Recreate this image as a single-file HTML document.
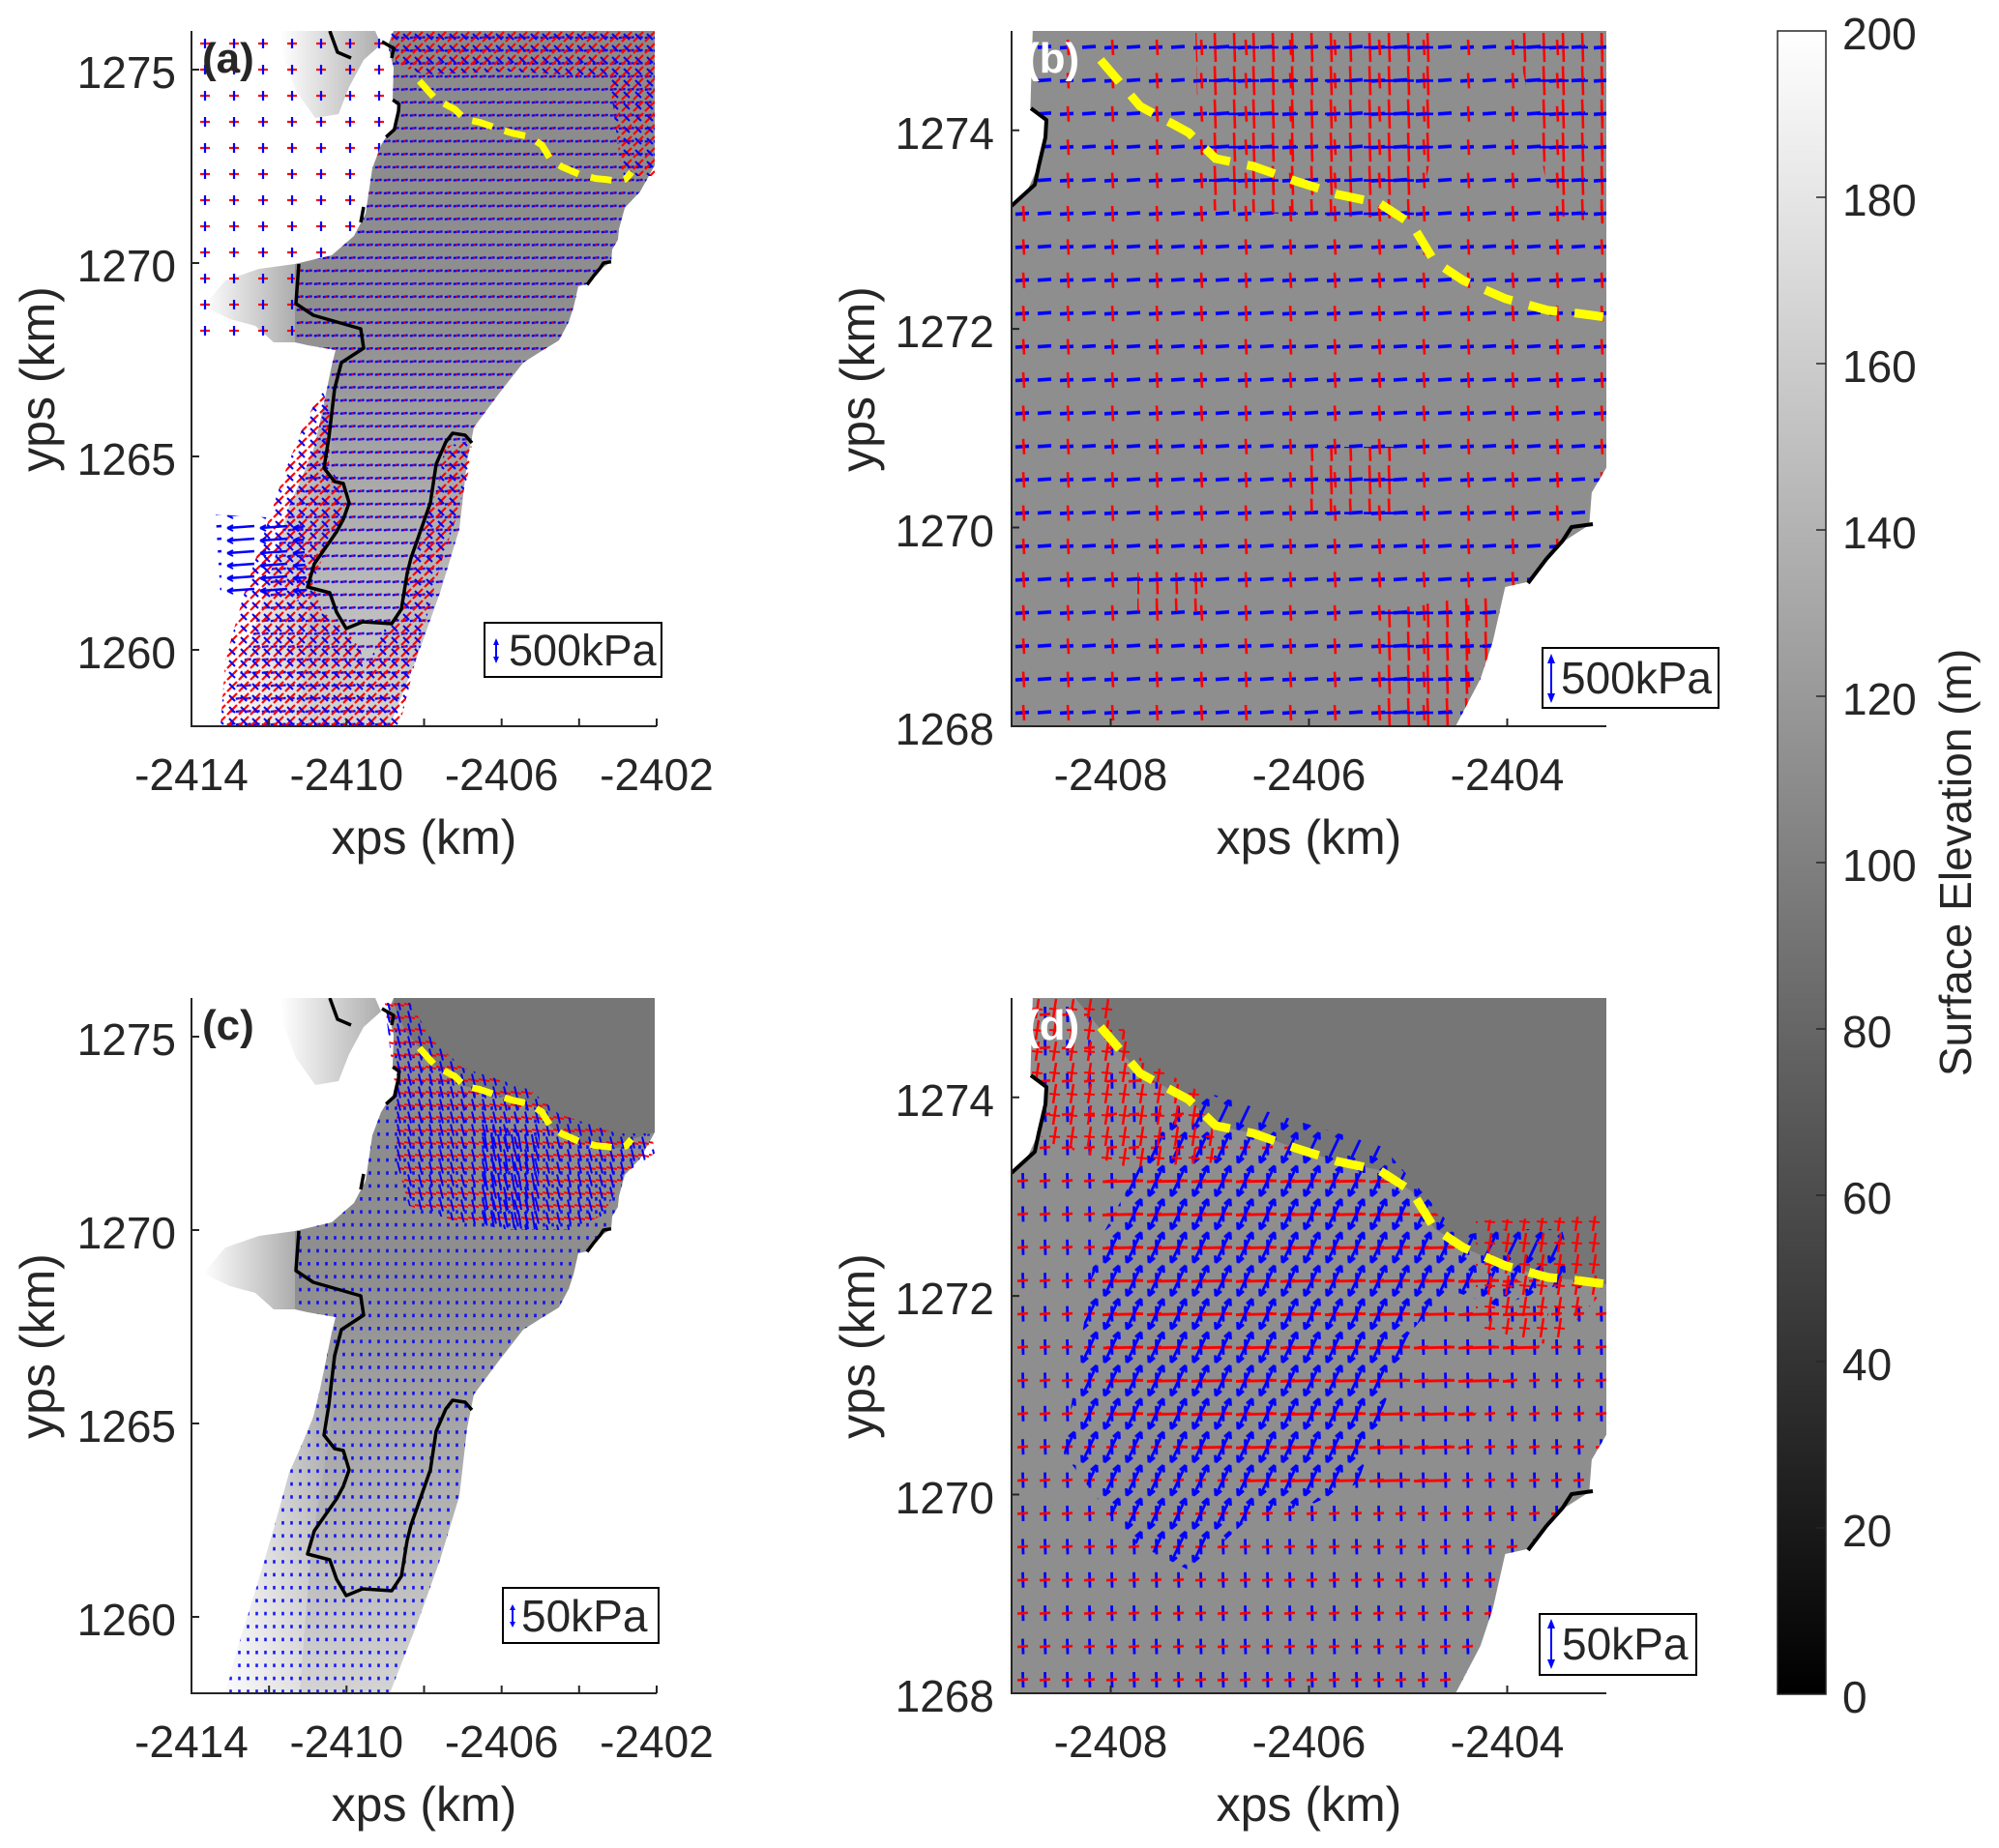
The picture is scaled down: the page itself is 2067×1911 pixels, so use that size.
<!DOCTYPE html>
<html><head><meta charset="utf-8">
<style>
html,body{margin:0;padding:0;background:#fff;width:2067px;height:1911px;overflow:hidden;}
svg{display:block;}
text{font-family:"Liberation Sans",Arial,sans-serif;fill:#262626;}
</style></head><body>
<svg xmlns="http://www.w3.org/2000/svg" width="2067" height="1911" viewBox="0 0 2067 1911">
<defs>
 <linearGradient id="gMain" gradientUnits="userSpaceOnUse" x1="0" y1="0" x2="0" y2="719">
  <stop offset="0" stop-color="#8a8a8a"/>
  <stop offset="0.42" stop-color="#8f8f8f"/>
  <stop offset="0.6" stop-color="#a4a4a4"/>
  <stop offset="0.8" stop-color="#b9b9b9"/>
  <stop offset="1" stop-color="#d4d4d4"/>
 </linearGradient>
 <linearGradient id="gBlob" x1="0" y1="0" x2="1" y2="0">
  <stop offset="0" stop-color="#ffffff"/>
  <stop offset="1" stop-color="#adadad"/>
 </linearGradient>
 <linearGradient id="gCbar" x1="0" y1="0" x2="0" y2="1">
  <stop offset="0" stop-color="#ffffff"/>
  <stop offset="1" stop-color="#000000"/>
 </linearGradient>
 <linearGradient id="gFringe" x1="0" y1="0" x2="1" y2="0">
  <stop offset="0" stop-color="#ffffff" stop-opacity="0.9"/>
  <stop offset="1" stop-color="#ffffff" stop-opacity="0"/>
 </linearGradient>

 <pattern id="pA_base" patternUnits="userSpaceOnUse" width="9" height="13.4">
  <line x1="0.8" y1="7.2" x2="7.6" y2="6.4" stroke="#0000ff" stroke-width="2.3"/>
  <rect x="3.6" y="5.8" width="1.8" height="1.8" fill="#ff0000"/>
 </pattern>
 <pattern id="pA_red" patternUnits="userSpaceOnUse" width="12" height="12">
  <line x1="1" y1="11" x2="11" y2="1" stroke="#ff0000" stroke-width="2.2"/>
  <line x1="3" y1="3" x2="9" y2="9" stroke="#0000ff" stroke-width="2"/>
 </pattern>
 <pattern id="pA_sparse" patternUnits="userSpaceOnUse" width="30" height="27">
  <line x1="9" y1="13" x2="19" y2="13" stroke="#ff0000" stroke-width="2.2"/>
  <line x1="14" y1="8" x2="14" y2="18" stroke="#0000ff" stroke-width="2.2"/>
 </pattern>
 <pattern id="pA_blueL" patternUnits="userSpaceOnUse" width="34" height="13">
  <line x1="3" y1="7" x2="31" y2="5" stroke="#0000ff" stroke-width="2.4"/>
  <path d="M3,7 l6,-3 M3,7 l6,3" stroke="#0000ff" stroke-width="2" fill="none"/>
 </pattern>
 <pattern id="pC_base" patternUnits="userSpaceOnUse" width="9" height="13.4">
  <line x1="4.5" y1="5" x2="4.5" y2="8.6" stroke="#0000ff" stroke-width="2.6"/>
 </pattern>
 <pattern id="pC_top" patternUnits="userSpaceOnUse" width="11" height="13">
  <line x1="0" y1="6" x2="11" y2="8" stroke="#ff0000" stroke-width="2"/>
  <line x1="4" y1="0.5" x2="7" y2="12.5" stroke="#0000ff" stroke-width="2"/>
 </pattern>
 <pattern id="pC_blueV" patternUnits="userSpaceOnUse" width="7" height="20">
  <line x1="2" y1="1" x2="5" y2="19" stroke="#0000ff" stroke-width="2"/>
 </pattern>
 <pattern id="pB_base" patternUnits="userSpaceOnUse" width="46" height="34.4">
  <line x1="4" y1="17.5" x2="18" y2="16.5" stroke="#0000ff" stroke-width="3.6"/>
  <line x1="27" y1="17" x2="41" y2="16" stroke="#0000ff" stroke-width="3.6"/>
  <line x1="12" y1="9" x2="13" y2="25" stroke="#ff0000" stroke-width="2.6"/>
 </pattern>
 <pattern id="pB_red" patternUnits="userSpaceOnUse" width="20" height="34.4">
  <line x1="10" y1="2" x2="11" y2="32" stroke="#ff0000" stroke-width="2.6"/>
  <line x1="4" y1="17" x2="16" y2="17" stroke="#0000ff" stroke-width="2.6"/>
 </pattern>
 <pattern id="pD_base" patternUnits="userSpaceOnUse" width="23" height="34.4">
  <line x1="11.5" y1="9" x2="12" y2="25" stroke="#0000ff" stroke-width="2.8"/>
  <line x1="6" y1="17.5" x2="17" y2="16.5" stroke="#ff0000" stroke-width="2.6"/>
 </pattern>
 <pattern id="pD_arrow" patternUnits="userSpaceOnUse" width="23" height="34.4">
  <path d="M4,33 L19,1.5 M19,1.5 l-6,5 M19,1.5 l0.5,7.5 M4,33 l6,-5 M4,33 l-0.5,-7.5" stroke="#0000ff" stroke-width="2.8" fill="none"/>
 </pattern>
 <pattern id="pD_red" patternUnits="userSpaceOnUse" width="46" height="34.4">
  <line x1="2" y1="18" x2="44" y2="17" stroke="#ff0000" stroke-width="2.8"/>
 </pattern>
 <pattern id="pD_redtop" patternUnits="userSpaceOnUse" width="18" height="22">
  <line x1="10" y1="1" x2="7" y2="21" stroke="#ff0000" stroke-width="2.5"/>
  <line x1="3" y1="11" x2="14" y2="12" stroke="#ff0000" stroke-width="2"/>
 </pattern>

 <clipPath id="clipAC"><rect x="0" y="0" width="481" height="719"/></clipPath>
 <clipPath id="clipBD"><rect x="0" y="0" width="615" height="719"/></clipPath>
 <clipPath id="clipMainBD"><path transform="scale(2.557,2.567) translate(-200.4,-40)" d="M209,38 L443,38 L443,201.3 L442,205 L440.9,216 L435,226 L434,239 L420,248 L409,262 L400,264 L395,286 L390,301 L380,320 L376.7,322 L198,322 L198,114.8 L201,110 L206,106 L211,95 L214,83 L214,76 L208,71 Z"/></clipPath>

 <path id="MAIN" d="M209,0 L479,0 L479,139 L464,166 L448,183 L442,205 L440.9,216 L435,226 L434,239 L420,248 L409,262 L400,264 L395,286 L390,301 L380,320 L362,331 L343,343 L318,375 L292,410 L285,445 L277,515 L257,581 L233,648 L205,719 L35,719 L50,665 L68,607 L85,549 L101,491 L114,462 L126,433 L133,404 L139,375 L145,346 L149,330 L120,325 L107,322 L107,241 L145,232 L168,212 L180,189 L187,142 L196,118 L201,110 L206,106 L211,95 L214,83 L214,76 L208,71 L209,38 L203,15 Z"/>
 <path id="MAINBD" d="M209,38 L443,38 L443,201.3 L442,205 L440.9,216 L435,226 L434,239 L420,248 L409,262 L400,264 L395,286 L390,301 L380,320 L376.7,322 L198,322 L198,114.8 L201,110 L206,106 L211,95 L214,83 L214,76 L208,71 Z"/>
 <path id="TOPFLAT" d="M209,0 L479,0 L479,139 L468,142 L455,146 L449,153 L440.9,155.3 L429.2,153.7 L417.5,152.6 L400.3,147.9 L383,140.5 L371.3,132.7 L362.3,117.9 L349,109.3 L332.2,105.8 L315,100.4 L298.2,94.5 L283,91.4 L272,80.9 L252.4,70.4 L235.6,51.7 L222,35 L212,15 Z"/>
 <path id="TOPFLATBD" d="M224.5,38 L443,38 L443,155 L440.9,155.3 L429.2,153.7 L417.5,152.6 L400.3,147.9 L383,140.5 L371.3,132.7 L362.3,117.9 L349,109.3 L332.2,105.8 L315,100.4 L298.2,94.5 L283,91.4 L272,80.9 L252.4,70.4 L235.6,51.7 Z"/>
 <path id="BLOBTOP" d="M92,0 L190,0 L196,14 L178,30 L163,58 L152,86 L128,90 L108,62 L96,30 Z"/>
 <path id="BLOBMID" d="M12,285 L35,258 L70,246 L107,241 L107,322 L85,322 L66,305 L40,298 Z"/>
 <path id="LEFTFR" d="M35,719 L50,665 L68,607 L85,549 L101,491 L114,462 L126,433 L133,404 L139,375 L150,380 L145,440 L135,500 L125,560 L118,640 L112,719 Z"/>
 <g id="GLA" fill="none" stroke="#000" stroke-width="3.5" stroke-linejoin="round">
  <path d="M111,241 L108,282 L126,294 L175,308 L178,328 L155,343 L148,370 L142,421 L137,452 L148,466 L157,468 L163,488 L157,505 L150,518 L127,551 L120,575 L143,581 L150,601 L160,618 L177,611 L207,613 L217,598 L223,561 L227,545 L240,508 L247,488 L253,448 L263,425 L270,416 L283,418 L290,426"/>
  <path d="M143,0 L151,22 L165,28"/>
  <path d="M197,11 L209,18 L207,28"/>
  <path d="M208.2,71.2 L214.5,75.8 L214.1,82.9 L211.4,94.5 L209.8,101.9 L201.2,109.7"/>
  <path d="M178,182 L175,198"/>
  <path d="M433.9,238.7 L426,240 L422.6,245.3 L416.3,252.7 L409,262.4"/>
 </g>
 <path id="YELA" d="M235.6,51.7 L252.4,70.4 L272,80.9 L283,91.4 L298.2,94.5 L315,100.4 L332.2,105.8 L349,109.3 L362.3,117.9 L371.3,132.7 L383,140.5 L400.3,147.9 L417.5,152.6 L429.2,153.7 L440.9,155.3 L449,153 L455,146" fill="none" stroke="#ffff00" stroke-width="7" stroke-dasharray="22 13"/>
 <g id="GLB" fill="none" stroke="#000" stroke-width="4" stroke-linejoin="round">
  <path d="M20,80 L36,92 L35,110 L28,140 L24,159 L2,179 L0,181"/>
  <path d="M601,510 L579,513 L570,527 L553,546 L534,571"/>
 </g>
 <path id="YELB" d="M92,30 L133,78 L183,105 L211,132 L250,140 L293,155 L337,169 L380,178 L414,200 L437,238 L467,258 L511,277 L555,289 L585,292 L615,296" fill="none" stroke="#ffff00" stroke-width="9" stroke-dasharray="30 18"/>
</defs>

<!-- ============ PANEL A ============ -->
<g transform="translate(198,32)" clip-path="url(#clipAC)">
 <use href="#BLOBTOP" fill="url(#gBlob)"/>
 <use href="#BLOBMID" fill="url(#gBlob)"/>
 <path d="M0,0 L209,0 L209,240 L107,241 L107,322 L0,330 Z" fill="url(#pA_sparse)"/>
 <use href="#MAIN" fill="url(#gMain)"/>
 <use href="#LEFTFR" fill="url(#gFringe)"/>
 <use href="#MAIN" fill="url(#pA_base)"/>
 <path d="M205,0 L479,0 L479,150 L445,150 L432,48 L330,42 L240,45 L212,35 Z" fill="url(#pA_red)"/>
 <path d="M30,719 L35,650 L55,580 L75,520 L95,460 L115,410 L135,370 L145,400 L142,450 L155,470 L160,495 L140,535 L125,570 L135,600 L160,620 L175,640 L185,719 Z" fill="url(#pA_red)"/>
 <path d="M175,719 L180,660 L200,618 L215,600 L225,560 L240,515 L256,465 L262,430 L290,423 L288,450 L275,500 L258,550 L245,600 L232,650 L215,719 Z" fill="url(#pA_red)"/>
 <path d="M25,500 L115,505 L120,590 L30,585 Z" fill="url(#pA_blueL)"/>
 <use href="#GLA"/>
 <use href="#YELA"/>
</g>

<!-- ============ PANEL C ============ -->
<g transform="translate(198,1032)" clip-path="url(#clipAC)">
 <use href="#BLOBTOP" fill="url(#gBlob)"/>
 <use href="#BLOBMID" fill="url(#gBlob)"/>
 <use href="#MAIN" fill="url(#gMain)"/>
 <use href="#LEFTFR" fill="url(#gFringe)"/>
 <use href="#MAIN" fill="url(#pC_base)" opacity="0.9"/>
 <use href="#TOPFLAT" fill="#767676"/>
 <path d="M200,5 L226,5 L248,42 L280,72 L320,85 L350,95 L380,120 L410,130 L440,140 L475,140 L480,160 L450,180 L425,225 L390,240 L330,240 L270,230 L225,215 L212,170 L212,100 L206,60 Z" fill="url(#pC_top)"/>
 <path d="M300,130 L360,140 L358,240 L300,235 Z" fill="url(#pC_blueV)"/>
 <use href="#GLA"/>
 <use href="#YELA"/>
</g>

<!-- ============ PANEL B ============ -->
<g transform="translate(1046,32)" clip-path="url(#clipBD)">
 <g transform="scale(2.557,2.567) translate(-200.4,-40)">
  <use href="#MAINBD" fill="#8e8e8e"/>
 </g>
 <g clip-path="url(#clipMainBD)">
  <rect x="0" y="0" width="615" height="719" fill="url(#pB_base)"/>
  <path d="M190,0 L445,0 L440,100 L420,195 L300,190 L195,185 Z" fill="url(#pB_red)"/>
  <path d="M520,0 L615,0 L615,200 L560,190 Z" fill="url(#pB_red)"/>
  <path d="M300,430 L400,430 L410,500 L300,500 Z" fill="url(#pB_red)"/>
  <path d="M130,560 L200,560 L200,600 L130,600 Z" fill="url(#pB_red)"/>
  <path d="M380,600 L510,580 L480,719 L380,719 Z" fill="url(#pB_red)"/>
 </g>
 <use href="#GLB"/>
 <use href="#YELB"/>
</g>

<!-- ============ PANEL D ============ -->
<g transform="translate(1046,1032)" clip-path="url(#clipBD)">
 <g transform="scale(2.557,2.567) translate(-200.4,-40)">
  <use href="#MAINBD" fill="#8e8e8e"/>
 </g>
 <rect x="0" y="0" width="615" height="719" fill="url(#pD_base)" clip-path="url(#clipMainBD)"/>
 <g transform="scale(2.557,2.567) translate(-200.4,-40)">
  <use href="#TOPFLATBD" fill="#767676"/>
 </g>
 <g clip-path="url(#clipMainBD)">
  <path d="M95,170 L300,160 L420,200 L480,270 L560,310 L540,380 L480,430 L440,530 L300,530 L200,480 L100,430 L90,300 Z" fill="url(#pD_red)"/>
  <path d="M54,471 L87,258 L153,136 L206,99 L285,124 L384,154 L437,215 L463,246 L503,239 L569,239 L582,291 L503,319 L450,301 L410,349 L358,502 L305,526 L252,532 L186,593 L120,560 Z" fill="url(#pD_arrow)"/>
  <path d="M0,0 L100,0 L130,60 L200,100 L215,170 L120,175 L40,150 L0,120 Z" fill="url(#pD_redtop)"/>
  <path d="M480,230 L615,225 L615,300 L560,360 L480,340 Z" fill="url(#pD_redtop)"/>
 </g>
 <use href="#GLB"/>
 <use href="#YELB"/>
</g>

<!-- ============ AXES ============ -->
<g stroke="#262626" stroke-width="2" fill="none">
 <path d="M198,32 L198,751 L679,751"/>
 <path d="M198,751 v-8 M278.2,751 v-8 M358.3,751 v-8 M438.5,751 v-8 M518.7,751 v-8 M598.8,751 v-8 M679,751 v-8"/>
 <path d="M198,72 h8 M198,272 h8 M198,472 h8 M198,672 h8"/>
 <path d="M198,1032 L198,1751 L679,1751"/>
 <path d="M198,1751 v-8 M278.2,1751 v-8 M358.3,1751 v-8 M438.5,1751 v-8 M518.7,1751 v-8 M598.8,1751 v-8 M679,1751 v-8"/>
 <path d="M198,1072 h8 M198,1272 h8 M198,1472 h8 M198,1672 h8"/>
 <path d="M1046,32 L1046,751 L1661,751"/>
 <path d="M1148.5,751 v-8 M1353.5,751 v-8 M1558.5,751 v-8"/>
 <path d="M1046,134.7 h8 M1046,340.1 h8 M1046,545.5 h8"/>
 <path d="M1046,1032 L1046,1751 L1661,1751"/>
 <path d="M1148.5,1751 v-8 M1353.5,1751 v-8 M1558.5,1751 v-8"/>
 <path d="M1046,1134.7 h8 M1046,1340.1 h8 M1046,1545.5 h8"/>
</g>

<g font-size="46">
 <g text-anchor="end">
  <text x="182" y="91">1275</text><text x="182" y="291">1270</text><text x="182" y="491">1265</text><text x="182" y="691">1260</text>
  <text x="182" y="1091">1275</text><text x="182" y="1291">1270</text><text x="182" y="1491">1265</text><text x="182" y="1691">1260</text>
  <text x="1028" y="154">1274</text><text x="1028" y="359">1272</text><text x="1028" y="565">1270</text><text x="1028" y="770">1268</text>
  <text x="1028" y="1154">1274</text><text x="1028" y="1359">1272</text><text x="1028" y="1565">1270</text><text x="1028" y="1770">1268</text>
 </g>
 <g text-anchor="middle">
  <text x="198" y="817">-2414</text><text x="358.3" y="817">-2410</text><text x="518.7" y="817">-2406</text><text x="679" y="817">-2402</text>
  <text x="198" y="1817">-2414</text><text x="358.3" y="1817">-2410</text><text x="518.7" y="1817">-2406</text><text x="679" y="1817">-2402</text>
  <text x="1148.5" y="817">-2408</text><text x="1353.5" y="817">-2406</text><text x="1558.5" y="817">-2404</text>
  <text x="1148.5" y="1817">-2408</text><text x="1353.5" y="1817">-2406</text><text x="1558.5" y="1817">-2404</text>
 </g>
</g>

<g font-size="50" text-anchor="middle">
 <text x="438.5" y="883">xps (km)</text>
 <text x="1353.5" y="883">xps (km)</text>
 <text x="438.5" y="1883">xps (km)</text>
 <text x="1353.5" y="1883">xps (km)</text>
 <text transform="translate(56,392) rotate(-90)">yps (km)</text>
 <text transform="translate(904,392) rotate(-90)">yps (km)</text>
 <text transform="translate(56,1392) rotate(-90)">yps (km)</text>
 <text transform="translate(904,1392) rotate(-90)">yps (km)</text>
</g>

<g font-size="44" font-weight="bold">
 <text x="209" y="75">(a)</text>
 <text x="209" y="1075">(c)</text>
 <text x="1060" y="75" style="fill:#ffffff">(b)</text>
 <text x="1060" y="1075" style="fill:#ffffff">(d)</text>
</g>

<g>
 <rect x="501" y="644" width="183" height="56" fill="#fff" stroke="#000" stroke-width="2"/>
 <path d="M513,664 L513,682" stroke="#0000ff" stroke-width="2"/>
 <polygon points="513,660 510,667 516,667" fill="#0000ff"/>
 <polygon points="513,686 510,679 516,679" fill="#0000ff"/>
 <text x="526" y="688" font-size="45">500kPa</text>

 <rect x="1595" y="670" width="182" height="62" fill="#fff" stroke="#000" stroke-width="2"/>
 <path d="M1604,682 L1604,721" stroke="#0000ff" stroke-width="2"/>
 <polygon points="1604,676 1600,686 1608,686" fill="#0000ff"/>
 <polygon points="1604,727 1600,717 1608,717" fill="#0000ff"/>
 <text x="1614" y="717" font-size="46">500kPa</text>

 <rect x="520" y="1642" width="161" height="57" fill="#fff" stroke="#000" stroke-width="2"/>
 <path d="M530,1662 L530,1680" stroke="#0000ff" stroke-width="2"/>
 <polygon points="530,1659 527,1665 533,1665" fill="#0000ff"/>
 <polygon points="530,1683 527,1677 533,1677" fill="#0000ff"/>
 <text x="539" y="1687" font-size="46">50kPa</text>

 <rect x="1592" y="1669" width="162" height="63" fill="#fff" stroke="#000" stroke-width="2"/>
 <path d="M1604,1680 L1604,1720" stroke="#0000ff" stroke-width="2"/>
 <polygon points="1604,1674 1600,1684 1608,1684" fill="#0000ff"/>
 <polygon points="1604,1726 1600,1716 1608,1716" fill="#0000ff"/>
 <text x="1615" y="1716" font-size="46">50kPa</text>
</g>

<rect x="1838" y="32" width="50" height="1720" fill="url(#gCbar)" stroke="#262626" stroke-width="1.5"/>
<g stroke="#262626" stroke-width="1.5">
 <path d="M1888,204 h-10 M1888,376 h-10 M1888,548 h-10 M1888,720 h-10 M1888,892 h-10 M1888,1064 h-10 M1888,1236 h-10 M1888,1408 h-10 M1888,1580 h-10"/>
</g>
<g font-size="46">
 <text x="1905" y="51">200</text>
 <text x="1905" y="223">180</text>
 <text x="1905" y="395">160</text>
 <text x="1905" y="567">140</text>
 <text x="1905" y="739">120</text>
 <text x="1905" y="911">100</text>
 <text x="1905" y="1083">80</text>
 <text x="1905" y="1255">60</text>
 <text x="1905" y="1427">40</text>
 <text x="1905" y="1599">20</text>
 <text x="1905" y="1771">0</text>
</g>
<text transform="translate(2038,892) rotate(-90)" font-size="46" text-anchor="middle">Surface Elevation (m)</text>
</svg>
</body></html>
